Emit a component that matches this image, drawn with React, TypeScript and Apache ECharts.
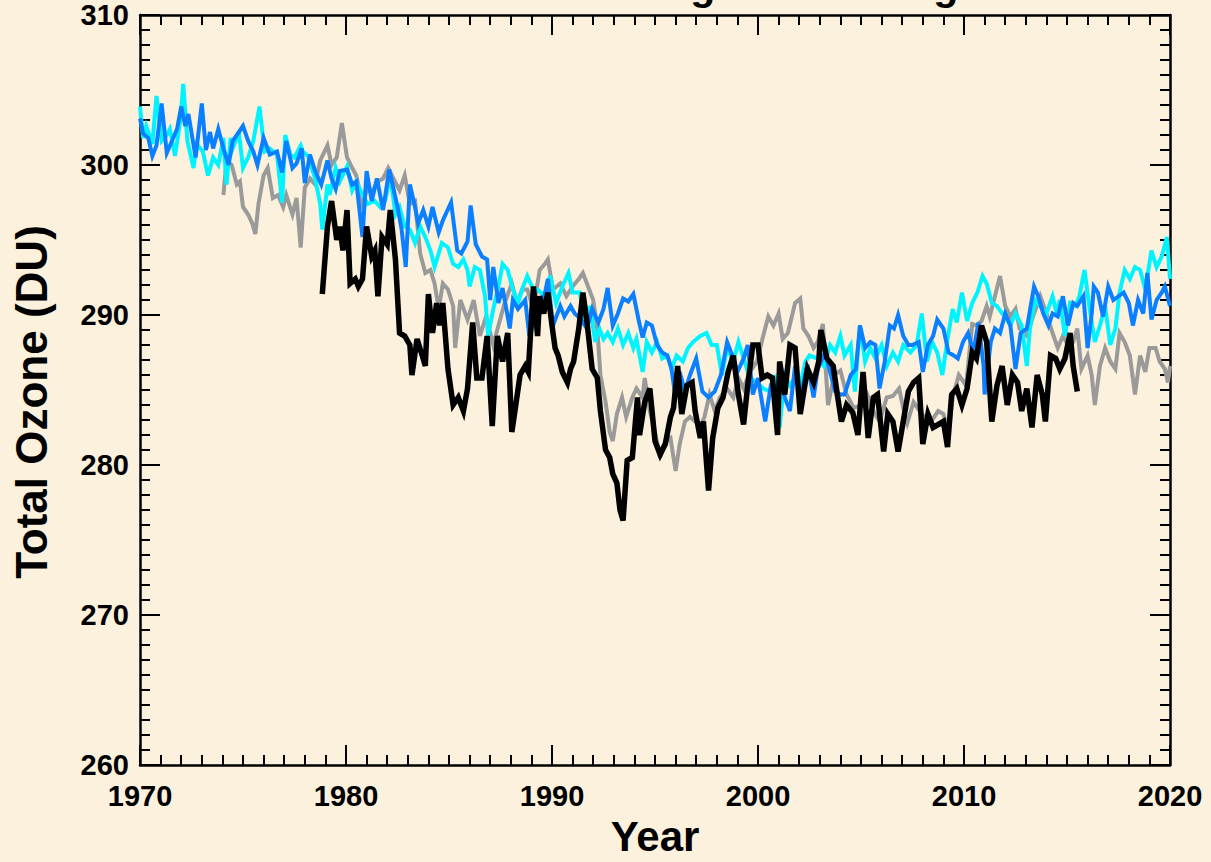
import React, { useEffect, useRef } from "react";
import * as echarts from "echarts";

// ---- texts ----
const titleText = "Total Ozone: Near-global Average";
const xAxisTitle = "Year";
const yAxisTitle = "Total Ozone (DU)";

// ---- axes ----
const xMin = 1970;
const xMax = 2020;
const xStep = 10;
const yMin = 260;
const yMax = 310;
const yStep = 10;

// ---- series: [year, total ozone DU] ----
const graySeries: [number, number][] = [
  [1974.05, 298.0], [1974.2, 300.3], [1974.45, 300.0], [1974.7, 298.7], [1974.85, 298.9], [1975.0, 297.2],
  [1975.25, 296.7], [1975.45, 296.1], [1975.6, 295.4], [1975.75, 297.4], [1976.0, 299.3], [1976.2, 299.8],
  [1976.45, 297.8], [1976.7, 298.0], [1976.95, 297.2], [1977.1, 298.0], [1977.4, 296.7], [1977.6, 297.8],
  [1977.8, 294.5], [1978.0, 298.5], [1978.25, 299.1], [1978.5, 298.7], [1978.75, 300.3], [1979.1, 301.3],
  [1979.3, 300.0], [1979.55, 300.5], [1979.8, 302.8], [1980.05, 300.5], [1980.3, 299.8], [1980.5, 299.3],
  [1980.8, 297.4], [1981.0, 298.3], [1981.3, 298.3], [1981.55, 298.9], [1981.8, 299.1], [1982.05, 299.8],
  [1982.3, 299.1], [1982.6, 298.3], [1982.85, 299.3], [1983.1, 297.4], [1983.35, 297.6], [1983.6, 294.1],
  [1983.85, 292.8], [1984.1, 293.0], [1984.3, 292.1], [1984.5, 290.4], [1984.7, 292.1], [1984.95, 291.7],
  [1985.2, 290.6], [1985.3, 287.8], [1985.55, 291.0], [1985.9, 289.7], [1986.2, 291.0], [1986.5, 288.6],
  [1986.8, 289.9], [1987.15, 288.0], [1987.4, 289.3], [1987.7, 290.8], [1988.05, 292.1], [1988.3, 290.8],
  [1988.55, 291.7], [1988.8, 291.7], [1989.1, 290.4], [1989.4, 293.0], [1989.65, 293.4], [1989.8, 293.7],
  [1990.05, 291.7], [1990.4, 292.1], [1990.7, 291.25], [1991.0, 291.9], [1991.3, 292.4], [1991.5, 292.8],
  [1991.75, 291.9], [1992.0, 291.0], [1992.2, 289.1], [1992.35, 286.0], [1992.6, 284.2], [1992.8, 282.2],
  [1992.95, 281.6], [1993.15, 283.4], [1993.4, 284.5], [1993.6, 283.2], [1993.9, 284.5], [1994.1, 285.1],
  [1994.4, 284.5], [1994.5, 285.8], [1994.75, 283.6], [1995.0, 282.2], [1995.25, 280.5], [1995.5, 281.6],
  [1995.75, 281.8], [1996.0, 279.6], [1996.2, 281.4], [1996.45, 282.9], [1996.7, 283.2], [1996.95, 282.9],
  [1997.2, 282.5], [1997.4, 283.2], [1997.65, 284.7], [1997.9, 283.6], [1998.15, 284.5], [1998.5, 285.1],
  [1998.8, 284.5], [1999.05, 285.8], [1999.3, 285.1], [1999.6, 286.2], [1999.95, 286.9], [2000.25, 288.6],
  [2000.5, 289.9], [2000.75, 289.3], [2001.0, 290.1], [2001.2, 288.4], [2001.45, 288.8], [2001.8, 290.8],
  [2002.05, 291.1], [2002.2, 289.1], [2002.45, 288.6], [2002.7, 287.8], [2002.9, 288.2], [2003.15, 289.4],
  [2003.4, 284.0], [2003.7, 286.0], [2004.0, 286.3], [2004.3, 284.7], [2004.65, 283.8], [2005.0, 284.0],
  [2005.3, 284.7], [2005.6, 283.6], [2005.9, 282.9], [2006.25, 284.5], [2006.55, 284.6], [2006.85, 285.1],
  [2007.05, 283.8], [2007.25, 282.8], [2007.55, 284.2], [2007.85, 283.6], [2008.2, 283.0], [2008.45, 283.0],
  [2008.75, 283.6], [2009.0, 283.4], [2009.25, 282.2], [2009.45, 284.5], [2009.75, 286.0], [2010.1, 285.3],
  [2010.4, 289.4], [2010.6, 289.3], [2010.85, 289.6], [2011.1, 290.6], [2011.25, 289.9], [2011.5, 291.25],
  [2011.75, 292.6], [2012.0, 290.6], [2012.25, 289.9], [2012.5, 290.4], [2012.7, 289.1], [2013.05, 288.6],
  [2013.4, 290.1], [2013.7, 291.25], [2014.0, 290.1], [2014.3, 288.8], [2014.55, 287.8], [2014.8, 288.6],
  [2015.05, 288.0], [2015.3, 288.2], [2015.5, 289.1], [2015.7, 286.4], [2016.0, 287.3], [2016.2, 286.0],
  [2016.35, 284.0], [2016.6, 286.6], [2016.85, 287.8], [2017.1, 286.9], [2017.35, 286.4], [2017.55, 288.8],
  [2017.8, 288.2], [2018.05, 287.3], [2018.3, 284.7], [2018.55, 287.3], [2018.8, 286.2], [2019.0, 287.8],
  [2019.3, 287.8], [2019.5, 286.9], [2019.75, 286.4], [2019.9, 285.5], [2020.0, 286.6],
];

const cyanSeries: [number, number][] = [
  [1970.0, 303.9], [1970.15, 301.8], [1970.3, 302.6], [1970.6, 301.4], [1970.8, 304.6], [1971.05, 301.6],
  [1971.3, 302.0], [1971.45, 302.4], [1971.7, 300.6], [1971.95, 302.9], [1972.1, 305.4], [1972.3, 301.6],
  [1972.6, 299.8], [1972.75, 301.4], [1973.05, 300.9], [1973.3, 299.3], [1973.55, 300.5], [1973.8, 300.0],
  [1974.05, 301.8], [1974.2, 298.7], [1974.4, 301.8], [1974.5, 301.1], [1974.8, 302.2], [1975.0, 299.8],
  [1975.25, 300.5], [1975.5, 301.6], [1975.8, 303.9], [1976.05, 300.9], [1976.3, 301.1], [1976.65, 300.7],
  [1976.9, 297.5], [1977.05, 302.0], [1977.3, 300.7], [1977.5, 300.5], [1977.8, 301.3], [1977.9, 300.9],
  [1978.15, 300.6], [1978.5, 299.1], [1978.75, 297.4], [1978.85, 295.7], [1979.1, 298.7], [1979.2, 298.0],
  [1979.5, 299.8], [1979.7, 298.9], [1980.05, 299.9], [1980.3, 298.3], [1980.5, 298.9], [1980.85, 297.9],
  [1981.05, 297.4], [1981.4, 297.6], [1981.65, 297.2], [1981.9, 297.6], [1982.15, 299.3], [1982.4, 296.7],
  [1982.6, 297.2], [1982.85, 295.9], [1983.1, 295.7], [1983.35, 294.8], [1983.6, 295.9], [1983.85, 295.2],
  [1984.1, 294.3], [1984.3, 293.2], [1984.65, 294.8], [1984.95, 294.5], [1985.2, 293.4], [1985.45, 293.2],
  [1985.7, 293.7], [1985.9, 293.0], [1986.0, 291.9], [1986.25, 293.2], [1986.5, 293.0], [1986.75, 291.25],
  [1986.9, 288.6], [1987.15, 290.4], [1987.4, 291.9], [1987.6, 293.4], [1987.85, 293.0], [1988.1, 291.7],
  [1988.35, 290.8], [1988.6, 291.9], [1988.8, 292.6], [1989.1, 291.7], [1989.3, 291.7], [1989.65, 291.25],
  [1989.9, 292.6], [1990.2, 290.8], [1990.5, 291.9], [1990.8, 292.8], [1991.0, 291.5], [1991.35, 291.5],
  [1991.6, 289.5], [1991.85, 290.6], [1992.1, 288.2], [1992.3, 289.1], [1992.5, 288.4], [1992.7, 288.8],
  [1992.95, 288.2], [1993.2, 289.1], [1993.45, 288.0], [1993.7, 288.8], [1993.95, 287.8], [1994.1, 288.4],
  [1994.4, 286.2], [1994.6, 288.2], [1994.85, 287.5], [1995.1, 288.2], [1995.35, 287.1], [1995.6, 287.3],
  [1995.8, 286.4], [1996.05, 287.3], [1996.35, 286.9], [1996.6, 287.8], [1996.85, 288.2], [1997.2, 288.6],
  [1997.5, 288.8], [1997.75, 288.0], [1998.0, 288.0], [1998.25, 286.0], [1998.5, 287.8], [1998.8, 286.9],
  [1999.05, 288.2], [1999.35, 286.9], [1999.6, 285.8], [1999.95, 285.5], [2000.25, 285.1], [2000.6, 284.9],
  [2000.85, 286.0], [2001.05, 282.5], [2001.3, 286.0], [2001.55, 285.3], [2001.8, 285.8], [2002.05, 285.3],
  [2002.3, 286.9], [2002.5, 287.3], [2002.9, 287.1], [2003.2, 286.6], [2003.5, 288.0], [2003.75, 287.5],
  [2004.0, 288.6], [2004.2, 287.3], [2004.5, 288.0], [2004.7, 284.9], [2004.95, 289.3], [2005.2, 286.9],
  [2005.45, 287.8], [2005.7, 287.1], [2006.0, 288.0], [2006.25, 286.6], [2006.55, 287.5], [2006.8, 286.9],
  [2007.05, 288.0], [2007.4, 287.5], [2007.7, 288.0], [2007.95, 290.1], [2008.2, 286.9], [2008.45, 288.2],
  [2008.7, 287.5], [2008.95, 286.0], [2009.2, 288.4], [2009.45, 290.4], [2009.65, 289.5], [2009.9, 291.5],
  [2010.15, 289.6], [2010.4, 290.8], [2010.65, 291.5], [2010.9, 292.6], [2011.1, 292.1], [2011.35, 290.8],
  [2011.6, 290.6], [2011.85, 290.1], [2012.0, 289.9], [2012.25, 289.3], [2012.5, 290.1], [2012.8, 289.3],
  [2013.05, 286.6], [2013.2, 289.1], [2013.45, 291.0], [2013.8, 290.4], [2014.0, 290.1], [2014.3, 291.25],
  [2014.5, 290.1], [2014.65, 291.0], [2014.9, 288.6], [2015.15, 290.8], [2015.4, 290.6], [2015.6, 291.25],
  [2015.85, 293.0], [2016.1, 290.4], [2016.35, 288.2], [2016.6, 289.3], [2016.85, 290.6], [2017.1, 288.0],
  [2017.35, 289.1], [2017.55, 291.5], [2017.8, 293.0], [2018.05, 292.4], [2018.3, 293.2], [2018.55, 293.0],
  [2018.8, 291.7], [2019.1, 294.3], [2019.35, 293.2], [2019.6, 293.9], [2019.85, 295.2], [2020.0, 292.4],
];

const blueSeries: [number, number][] = [
  [1970.0, 303.1], [1970.15, 302.1], [1970.4, 301.8], [1970.6, 300.6], [1970.8, 301.3], [1971.05, 304.1],
  [1971.3, 300.8], [1971.55, 301.6], [1971.8, 302.4], [1972.0, 303.9], [1972.2, 302.6], [1972.35, 303.4],
  [1972.7, 300.5], [1973.0, 304.1], [1973.2, 301.0], [1973.4, 302.2], [1973.55, 301.1], [1973.8, 302.4],
  [1974.05, 301.1], [1974.3, 300.0], [1974.5, 301.6], [1974.75, 302.1], [1975.0, 302.6], [1975.25, 301.6],
  [1975.5, 300.9], [1975.7, 300.0], [1976.0, 301.8], [1976.3, 300.7], [1976.65, 300.9], [1976.9, 299.5],
  [1977.1, 301.6], [1977.4, 299.8], [1977.6, 300.1], [1977.85, 301.1], [1978.0, 298.8], [1978.25, 300.7],
  [1978.5, 299.6], [1978.8, 298.7], [1979.1, 300.3], [1979.3, 299.1], [1979.5, 298.4], [1979.7, 299.6],
  [1980.05, 299.7], [1980.3, 298.7], [1980.5, 298.9], [1980.8, 295.2], [1981.0, 299.6], [1981.25, 297.6],
  [1981.5, 299.1], [1981.8, 297.0], [1982.1, 299.7], [1982.5, 297.2], [1982.7, 295.7], [1982.9, 293.2],
  [1983.1, 298.7], [1983.35, 297.2], [1983.5, 296.1], [1983.75, 297.0], [1984.0, 295.9], [1984.2, 297.2],
  [1984.5, 295.5], [1984.7, 296.3], [1985.1, 297.5], [1985.4, 294.3], [1985.6, 294.1], [1985.9, 294.9],
  [1986.05, 297.3], [1986.3, 294.7], [1986.6, 293.9], [1986.85, 293.7], [1987.0, 291.0], [1987.15, 293.2],
  [1987.4, 290.8], [1987.6, 291.8], [1987.95, 289.1], [1988.1, 291.0], [1988.35, 290.4], [1988.7, 291.0],
  [1988.9, 288.6], [1989.3, 290.1], [1989.5, 290.4], [1989.8, 292.4], [1990.05, 289.3], [1990.4, 290.6],
  [1990.6, 289.9], [1990.9, 290.6], [1991.1, 290.1], [1991.35, 289.8], [1991.7, 289.1], [1991.95, 290.4],
  [1992.25, 289.5], [1992.5, 290.4], [1992.7, 291.8], [1992.95, 289.3], [1993.2, 290.1], [1993.45, 291.1],
  [1993.7, 290.9], [1993.95, 291.4], [1994.2, 289.7], [1994.4, 288.5], [1994.6, 289.5], [1994.85, 289.3],
  [1995.1, 288.0], [1995.35, 287.5], [1995.6, 287.3], [1995.8, 286.4], [1996.0, 284.5], [1996.2, 286.2],
  [1996.45, 284.9], [1996.7, 286.0], [1997.0, 287.1], [1997.3, 284.9], [1997.6, 284.5], [1997.9, 284.9],
  [1998.2, 286.0], [1998.5, 288.2], [1998.75, 287.3], [1999.0, 286.2], [1999.3, 287.1], [1999.5, 288.0],
  [1999.75, 284.7], [2000.0, 285.8], [2000.35, 282.9], [2000.6, 285.1], [2000.85, 284.5], [2001.05, 286.2],
  [2001.3, 284.5], [2001.55, 283.6], [2001.8, 286.6], [2002.05, 284.5], [2002.4, 286.7], [2002.7, 284.5],
  [2002.9, 286.4], [2003.25, 287.5], [2003.5, 286.2], [2003.75, 284.9], [2004.0, 284.7], [2004.2, 284.7],
  [2004.5, 286.0], [2004.75, 286.4], [2004.95, 289.3], [2005.2, 287.8], [2005.45, 288.2], [2005.7, 288.0],
  [2005.9, 285.1], [2006.15, 286.9], [2006.4, 289.3], [2006.6, 289.1], [2006.8, 290.0], [2007.05, 288.6],
  [2007.3, 288.0], [2007.5, 288.0], [2007.8, 288.2], [2008.0, 286.2], [2008.25, 288.0], [2008.5, 288.6],
  [2008.7, 289.7], [2009.0, 289.1], [2009.25, 287.5], [2009.5, 287.3], [2009.7, 287.1], [2009.95, 288.2],
  [2010.2, 288.8], [2010.45, 287.5], [2010.7, 289.5], [2010.95, 286.6], [2011.0, 284.7], [2011.3, 288.2],
  [2011.5, 289.1], [2011.75, 288.8], [2012.0, 290.1], [2012.25, 289.3], [2012.5, 286.4], [2012.75, 288.8],
  [2013.05, 289.1], [2013.4, 291.9], [2013.6, 291.25], [2013.85, 290.1], [2014.1, 289.3], [2014.3, 290.1],
  [2014.55, 289.9], [2014.8, 291.25], [2015.05, 289.3], [2015.3, 290.8], [2015.5, 290.6], [2015.8, 291.25],
  [2016.0, 287.8], [2016.2, 290.1], [2016.3, 291.9], [2016.5, 291.5], [2016.75, 289.9], [2017.0, 291.9],
  [2017.25, 291.0], [2017.5, 291.25], [2017.75, 291.5], [2018.0, 290.8], [2018.2, 289.3], [2018.45, 291.0],
  [2018.7, 290.1], [2018.9, 292.8], [2019.1, 289.7], [2019.35, 291.0], [2019.6, 291.5], [2019.75, 291.9],
  [2020.0, 290.6],
];

const blackSeries: [number, number][] = [
  [1978.85, 291.4], [1979.1, 295.9], [1979.3, 297.6], [1979.55, 295.0], [1979.7, 295.9], [1979.85, 294.3],
  [1980.05, 297.0], [1980.2, 292.1], [1980.45, 292.4], [1980.6, 291.9], [1980.8, 292.4], [1981.0, 295.9],
  [1981.25, 293.9], [1981.4, 294.3], [1981.55, 291.25], [1981.75, 295.2], [1982.0, 294.7], [1982.15, 297.0],
  [1982.4, 293.7], [1982.6, 288.8], [1982.85, 288.6], [1983.1, 288.0], [1983.2, 286.0], [1983.45, 288.4],
  [1983.7, 287.3], [1983.85, 286.6], [1984.0, 291.4], [1984.2, 288.8], [1984.4, 290.8], [1984.55, 289.3],
  [1984.7, 290.8], [1984.95, 286.4], [1985.2, 284.0], [1985.45, 284.5], [1985.7, 283.6], [1985.9, 285.1],
  [1986.15, 289.5], [1986.35, 285.8], [1986.6, 285.8], [1986.85, 288.6], [1987.1, 282.6], [1987.35, 288.6],
  [1987.6, 286.9], [1987.85, 288.8], [1988.05, 282.2], [1988.2, 283.6], [1988.45, 286.0], [1988.7, 286.6],
  [1988.85, 286.2], [1988.95, 288.6], [1989.1, 291.9], [1989.3, 288.6], [1989.4, 291.25], [1989.6, 290.1],
  [1989.8, 291.5], [1990.0, 289.3], [1990.15, 287.8], [1990.3, 287.3], [1990.5, 286.2], [1990.75, 285.5],
  [1990.9, 286.4], [1991.05, 286.9], [1991.3, 289.1], [1991.5, 291.5], [1991.7, 289.5], [1991.95, 286.4],
  [1992.2, 285.8], [1992.35, 283.6], [1992.6, 281.0], [1992.8, 280.5], [1992.95, 279.4], [1993.15, 278.8],
  [1993.3, 277.0], [1993.45, 276.3], [1993.65, 280.3], [1993.9, 280.5], [1994.15, 284.5], [1994.25, 282.0],
  [1994.5, 284.2], [1994.75, 285.1], [1995.0, 281.6], [1995.25, 280.7], [1995.5, 281.4], [1995.75, 283.2],
  [1995.9, 283.8], [1996.1, 286.6], [1996.3, 283.4], [1996.55, 285.3], [1996.8, 285.5], [1996.95, 283.6],
  [1997.2, 281.8], [1997.35, 282.9], [1997.6, 278.3], [1997.8, 281.8], [1998.05, 283.8], [1998.3, 284.5],
  [1998.55, 286.2], [1998.8, 287.3], [1999.05, 284.7], [1999.3, 282.7], [1999.5, 285.3], [1999.75, 288.0],
  [2000.0, 288.0], [2000.2, 285.8], [2000.45, 286.0], [2000.7, 285.8], [2000.95, 282.0], [2001.05, 286.9],
  [2001.3, 284.7], [2001.55, 288.0], [2001.8, 287.8], [2002.05, 283.4], [2002.4, 286.4], [2002.7, 285.5],
  [2002.95, 286.9], [2003.05, 289.0], [2003.35, 287.1], [2003.65, 286.6], [2003.85, 284.7], [2004.05, 282.9],
  [2004.3, 284.0], [2004.6, 283.5], [2004.85, 282.0], [2005.1, 286.2], [2005.35, 281.8], [2005.6, 284.5],
  [2005.8, 284.7], [2006.1, 280.9], [2006.3, 283.4], [2006.55, 282.9], [2006.8, 280.9], [2007.05, 282.9],
  [2007.3, 284.9], [2007.55, 285.5], [2007.8, 285.8], [2008.0, 281.4], [2008.25, 283.4], [2008.5, 282.5],
  [2008.75, 282.7], [2009.0, 282.9], [2009.2, 281.2], [2009.4, 284.7], [2009.65, 285.1], [2009.9, 284.0],
  [2010.15, 285.1], [2010.4, 287.5], [2010.6, 287.1], [2010.85, 289.3], [2011.1, 288.2], [2011.35, 282.9],
  [2011.6, 285.3], [2011.85, 286.6], [2012.1, 284.0], [2012.35, 286.0], [2012.6, 285.5], [2012.8, 283.6],
  [2013.05, 285.1], [2013.3, 282.5], [2013.55, 286.0], [2013.8, 284.7], [2013.95, 282.9], [2014.2, 287.3],
  [2014.45, 287.1], [2014.65, 286.4], [2014.9, 287.1], [2015.15, 288.8], [2015.3, 286.6], [2015.5, 284.9],
];

const FONT = "'Liberation Sans', Arial, Helvetica, sans-serif";
const BG = "#FBF1DC";

function lineSeries(name: string, data: [number, number][], color: string, width: number, z: number) {
  return {
    name,
    type: "line",
    data,
    xAxisIndex: 0,
    yAxisIndex: 0,
    showSymbol: false,
    symbol: "none",
    smooth: false,
    clip: true,
    z,
    lineStyle: { color, width, join: "miter", cap: "butt" },
  };
}

function baseAxisStyle() {
  return {
    axisLine: { show: true, onZero: false, lineStyle: { color: "#000", width: 2.5 } },
    axisTick: { show: true, inside: true, length: 20, lineStyle: { color: "#000", width: 2 } },
    minorTick: { show: true, splitNumber: 10, length: 10, lineStyle: { color: "#000", width: 2 } },
    splitLine: { show: false },
    minorSplitLine: { show: false },
  };
}

export default function App() {
  const ref = useRef<HTMLDivElement>(null);

  useEffect(() => {
    if (!ref.current) return;
    const chart = echarts.init(ref.current, undefined, { renderer: "svg" });
    const option: any = {
      animation: false,
      backgroundColor: BG,
      textStyle: { fontFamily: FONT },
      grid: { left: 140, right: 41, top: 15, bottom: 87, containLabel: false },
      graphic: [
        {
          type: "text",
          x: 655,
          y: 6.5,
          z: 10,
          style: {
            text: titleText,
            align: "center",
            verticalAlign: "bottom",
            fontSize: 41,
            fontWeight: "bold",
            fontFamily: FONT,
            fill: "#000",
          },
        },
      ],
      xAxis: [
        {
          type: "value",
          position: "bottom",
          min: xMin,
          max: xMax,
          interval: xStep,
          name: xAxisTitle,
          nameLocation: "middle",
          nameGap: 50,
          nameTextStyle: { fontSize: 42, fontWeight: "bold", color: "#000", fontFamily: FONT },
          axisLabel: {
            show: true,
            margin: 16,
            fontSize: 29,
            fontWeight: "bold",
            color: "#000",
            fontFamily: FONT,
            formatter: (v: number) => String(Math.round(v)),
          },
          ...baseAxisStyle(),
        },
        {
          type: "value",
          position: "top",
          min: xMin,
          max: xMax,
          interval: xStep,
          axisLabel: { show: false },
          ...baseAxisStyle(),
        },
      ],
      yAxis: [
        {
          type: "value",
          position: "left",
          min: yMin,
          max: yMax,
          interval: yStep,
          name: yAxisTitle,
          nameLocation: "middle",
          nameGap: 87,
          nameRotate: 90,
          nameTextStyle: {
            fontSize: 44,
            fontWeight: "bold",
            color: "#000",
            fontFamily: FONT,
            padding: [0, 24, 0, 0],
          },
          axisLabel: {
            show: true,
            margin: 11,
            fontSize: 29,
            fontWeight: "bold",
            color: "#000",
            fontFamily: FONT,
          },
          ...baseAxisStyle(),
        },
        {
          type: "value",
          position: "right",
          min: yMin,
          max: yMax,
          interval: yStep,
          axisLabel: { show: false },
          ...baseAxisStyle(),
        },
      ],
      series: [
        lineSeries("Gray", graySeries, "#9a9a9a", 4, 2),
        lineSeries("Cyan", cyanSeries, "#00F4FF", 4, 3),
        lineSeries("Blue", blueSeries, "#0A7FFF", 4, 4),
        lineSeries("Black", blackSeries, "#000000", 5.5, 5),
      ],
    };
    chart.setOption(option);
    return () => {
      chart.dispose();
    };
  }, []);

  return (
    <div
      ref={ref}
      style={{ position: "fixed", left: 0, top: 0, width: 1211, height: 862, background: BG }}
    />
  );
}
